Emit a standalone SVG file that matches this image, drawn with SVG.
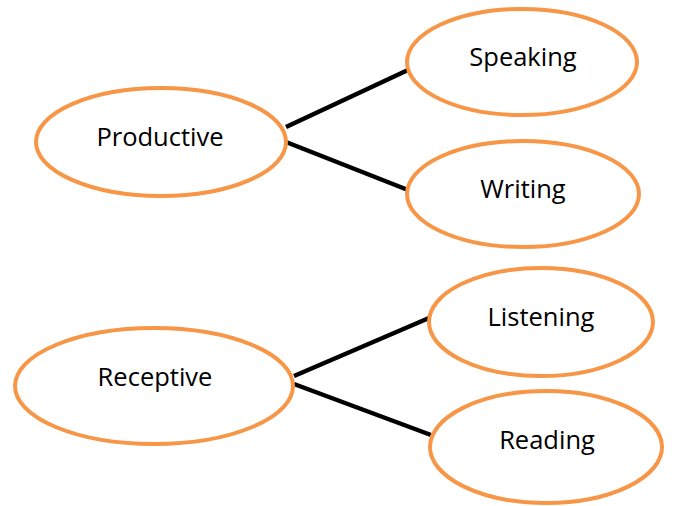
<svg xmlns="http://www.w3.org/2000/svg" width="678" height="506" viewBox="0 0 678 506">
<style>
.node ellipse{fill:#fff;stroke:#F79646;stroke-width:4}
.node text{font-family:"Open Sans","Liberation Sans",sans-serif;font-size:25.5px;fill:#000;text-anchor:middle;dominant-baseline:central}
.edges line{stroke:#000;stroke-width:4.5;stroke-linecap:butt}
</style>
<rect width="678" height="506" fill="#fff"/>
<g class="edges">
<line x1="286" y1="127" x2="408" y2="70"/>
<line x1="286" y1="142" x2="408" y2="190"/>
<line x1="294" y1="376" x2="429" y2="318"/>
<line x1="294" y1="384" x2="431" y2="435"/>
</g>
<g id="productive" class="node"><ellipse cx="161" cy="142" rx="125" ry="54"/><text x="160" y="136">Productive</text></g>
<g id="speaking" class="node"><ellipse cx="522" cy="62" rx="115" ry="53"/><text x="523" y="56">Speaking</text></g>
<g id="writing" class="node"><ellipse cx="523" cy="194" rx="116" ry="53"/><text x="523" y="188">Writing</text></g>
<g id="receptive" class="node"><ellipse cx="154" cy="386" rx="139" ry="58"/><text x="155" y="376">Receptive</text></g>
<g id="listening" class="node"><ellipse cx="541" cy="322" rx="112" ry="54"/><text x="541" y="316">Listening</text></g>
<g id="reading" class="node"><ellipse cx="546" cy="447" rx="116" ry="56"/><text x="547" y="439">Reading</text></g>
</svg>
